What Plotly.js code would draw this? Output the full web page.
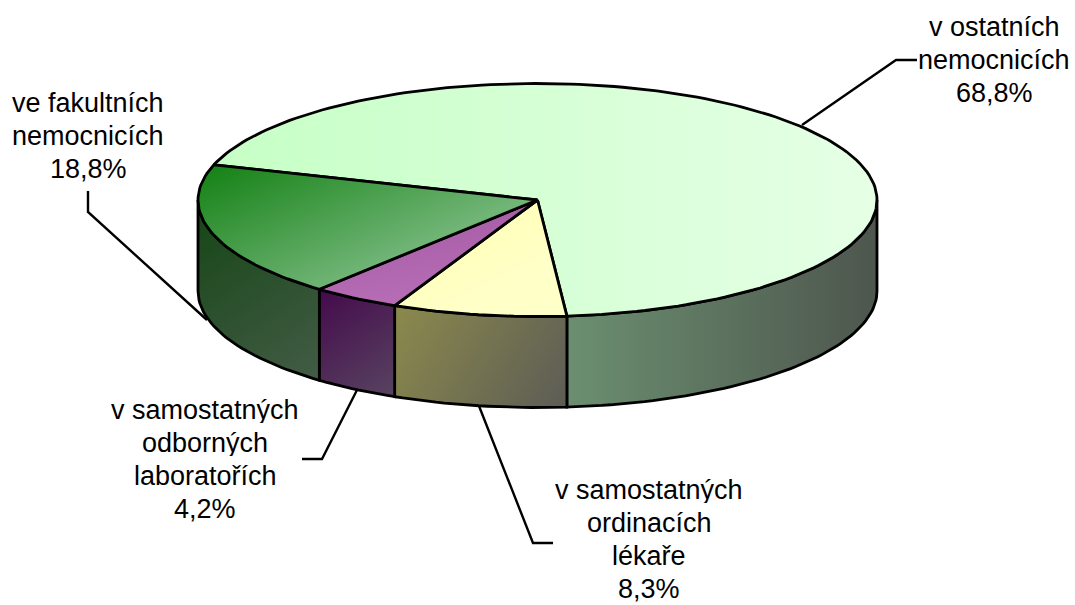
<!DOCTYPE html>
<html>
<head>
<meta charset="utf-8">
<script src="https://cdn.plot.ly/plotly-3.0.1.min.js"></script>
<style>html,body{margin:0;padding:0;background:#fff}</style>
</head>
<body>
<div id="chart" style="width:1075px;height:605px"></div>
<script>
// Data
var categories = [["v ostatních", "nemocnicích"], ["v samostatných", "ordinacích", "lékaře"], ["v samostatných", "odborných", "laboratořích"], ["ve fakultních", "nemocnicích"]];
var shares = [68.8, 8.3, 4.2, 18.8];
var labelX = [994, 649, 205, 88];
var labelY = [27, 490, 410, 103];
var lineStep = 33;
// Colours [start, end] for the top faces and the side walls
var topColors = [["#c6ffc6", "#e6ffe6"], ["#ffffb0", "#ffffc8"], ["#a3589f", "#b56cb5"], ["#128012", "#70b476"]];
var sideColors = [["#6b8f70", "#4e564e"], ["#8c8a4c", "#5c5c56"], ["#440a4c", "#584460"], ["#154515", "#435c46"]];
var topSlant = [0, 0.5, 0.15, 0.45];
var topStretch = [1, 1, 1, 1.2];
// Leader lines (x, y polyline per label)
var leaderX = [[802, 896, 917], [479, 533, 553], [357, 322, 302], [207, 88, 88]];
var leaderY = [[125, 60, 60], [406, 543, 543], [390, 459, 459], [320, 212, 191]];

// Pie projection
var cx = 537.5, cy = 200, rx = 339.5, ry = 116.5, depth = 91, startAngle = -72.4;
var total = shares.reduce(function (a, b) { return a + b; }, 0);

function pt(deg, dy) {
  var r = deg * Math.PI / 180;
  return [cx + rx * Math.sin(r), cy - ry * Math.cos(r) + (dy || 0)];
}
function arc(a, b, dy) {
  var out = [], n = Math.max(2, Math.ceil(Math.abs(b - a) / 1.5));
  for (var i = 0; i <= n; i++) out.push(pt(a + (b - a) * i / n, dy));
  return out;
}
function polyTrace(points, colors) {
  return {
    type: "scatter", mode: "lines", hoverinfo: "skip", showlegend: false,
    x: points.map(function (p) { return p[0]; }),
    y: points.map(function (p) { return p[1]; }),
    fill: "toself",
    // Plotly paints the scale's first stop at the far end of the gradient vector
    fillgradient: { type: "horizontal", colorscale: [[0, colors[1]], [1, colors[0]]] },
    line: { color: "#000", width: 2.8, shape: "linear" }
  };
}

var traces = [], gradients = [];
// leaders
leaderX.forEach(function (xs, i) {
  traces.push({ type: "scatter", mode: "lines", x: xs, y: leaderY[i], hoverinfo: "skip", showlegend: false,
    line: { color: "#000", width: 2.4 } });
  gradients.push(null);
});
// slice angle spans
var spans = [], acc = startAngle;
shares.forEach(function (s) {
  var sweep = s / total * 360;
  spans.push([acc, acc + sweep]);
  acc += sweep;
});
// side walls (only the visible front half, 90..270 degrees)
spans.forEach(function (sp, i) {
  var a = sp[0], b = sp[1];
  while (b <= 90) { a += 360; b += 360; }
  var lo = Math.max(a, 90), hi = Math.min(b, 270);
  if (hi <= lo) return;
  var topArc = arc(lo, hi, 0), botArc = arc(hi, lo, depth);
  var pts = topArc.concat(botArc); pts.push(topArc[0]);
  traces.push(polyTrace(pts, sideColors[i]));
  var xsAll = pts.map(function (p) { return p[0]; }), ysAll = pts.map(function (p) { return p[1]; });
  var x0 = Math.min.apply(null, xsAll), x1 = Math.max.apply(null, xsAll);
  var y0 = Math.min.apply(null, ysAll), y1 = Math.max.apply(null, ysAll);
  gradients.push(i === 0 ? [x0, y0, x1, y0] : [x0, y0, x1, y1]);
});
// top faces
spans.forEach(function (sp, i) {
  var pts = [[cx, cy]].concat(arc(sp[0], sp[1], 0)); pts.push([cx, cy]);
  traces.push(polyTrace(pts, topColors[i]));
  var xsAll = pts.map(function (p) { return p[0]; }), ysAll = pts.map(function (p) { return p[1]; });
  var x0 = Math.min.apply(null, xsAll), x1 = Math.max.apply(null, xsAll);
  var y0 = Math.min.apply(null, ysAll), y1 = Math.max.apply(null, ysAll);
  var h = (y1 - y0) * topStretch[i];
  gradients.push(i === 0 ? [x0, y0, x1, y0] : [x0, y0, x0 + h * topSlant[i], y0 + h]);
});

var annotations = [];
categories.forEach(function (lines, i) {
  lines.concat([shares[i].toFixed(1).replace(".", ",") + "%"]).forEach(function (t, k) {
    annotations.push({
      x: labelX[i], y: labelY[i] + k * lineStep, xref: "x", yref: "y", showarrow: false, align: "center",
      xanchor: "center", yanchor: "middle", text: t, height: 26, valign: "middle",
      font: { family: "Liberation Sans, Arial, sans-serif", size: 27, color: "#000" }
    });
  });
});

var layout = {
  width: 1075, height: 605, margin: { l: 0, r: 0, t: 0, b: 0 },
  paper_bgcolor: "#fff", plot_bgcolor: "#fff", showlegend: false,
  xaxis: { range: [0, 1075], visible: false, fixedrange: true },
  yaxis: { range: [605, 0], visible: false, fixedrange: true },
  annotations: annotations
};

Plotly.newPlot("chart", traces, layout, { displayModeBar: false, staticPlot: true }).then(function (gd) {
  // turn the horizontal fills into the chart's diagonal shading
  var groups = gd.querySelectorAll(".scatterlayer .trace");
  groups.forEach(function (g, i) {
    var g4 = gradients[i];
    if (!g4) return;
    var path = g.querySelector(".js-fill");
    if (!path) return;
    var m = /#([^"')]+)/.exec(path.style.fill || path.getAttribute("style") || "");
    if (!m) return;
    var el = document.getElementById(m[1]);
    if (!el) return;
    el.setAttribute("gradientUnits", "userSpaceOnUse");
    el.removeAttribute("gradientTransform");
    el.setAttribute("x1", g4[0]); el.setAttribute("y1", g4[1]);
    el.setAttribute("x2", g4[2]); el.setAttribute("y2", g4[3]);
  });
});
</script>
</body>
</html>
